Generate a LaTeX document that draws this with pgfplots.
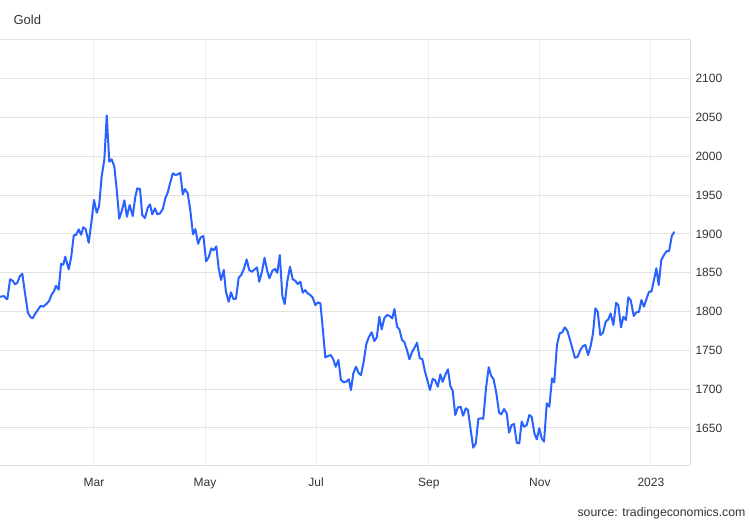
\documentclass[border=0pt]{standalone}
\usepackage{pgfplots}
\pgfplotsset{compat=1.18}
\usepackage{fontspec}
\setmainfont{Liberation Sans}
\definecolor{lineblue}{RGB}{41,98,255}
\definecolor{hgrid}{RGB}{226,226,226}
\definecolor{vgrid}{RGB}{236,239,243}
\definecolor{axisgray}{RGB}{216,221,230}
\definecolor{txt}{RGB}{51,51,51}
\begin{document}
\begin{tikzpicture}
\path[use as bounding box] (0pt,0pt) rectangle (750pt,520pt);
\begin{axis}[
  at={(0pt,55pt)}, anchor=south west,
  scale only axis, width=690pt, height=425pt,
  xmin=7.35, xmax=386.5, ymin=1602.3, ymax=2150,
  axis x line*=bottom, axis y line*=right,
  axis line style={draw=axisgray, line width=1pt},
  x axis line style={-}, y axis line style={-},
  xtick={59,120,181,243,304,365},
  xticklabels={Mar,May,Jul,Sep,Nov,2023},
  ytick={1650,1700,...,2100},
  extra y ticks={2150}, extra y tick labels={},
  extra y tick style={grid=major, major grid style={draw=hgrid, line width=1pt}},
  major tick length=0pt,
  xmajorgrids, ymajorgrids,
  x grid style={draw=vgrid, line width=1pt},
  y grid style={draw=hgrid, line width=1pt},
  /pgf/number format/assume math mode=true,
  /pgf/number format/1000 sep={},
  yticklabel style={font=\fontsize{12}{14}\selectfont, text=txt, anchor=west, xshift=2pt},
  xticklabel style={font=\fontsize{12}{14}\selectfont, text=txt, anchor=base, yshift=-21.5pt},
  clip=false,
]
\addplot[lineblue, line width=2pt, line join=round] coordinates {
(7.4,1819.1) (9.6,1820.0) (10.7,1816.6) (11.4,1816.2) (12.9,1841.6) (14.3,1839.8)
(15.6,1835.1) (16.9,1837.2) (18.3,1845.8) (19.6,1848.8) (21.1,1823.5) (22.7,1798.5)
(24.2,1792.6) (25.3,1791.3) (26.6,1796.9) (28.4,1802.9) (29.7,1807.5) (31.1,1806.3)
(33.0,1810.1) (34.3,1813.6) (35.8,1822.2) (37.0,1826.1) (38.1,1833.3) (39.6,1828.2)
(40.9,1861.3) (42.1,1860.4) (43.2,1870.7) (45.1,1854.4) (46.5,1870.7) (47.9,1898.3)
(49.1,1898.7) (50.6,1906.0) (51.9,1899.0) (53.1,1908.6) (54.4,1906.4) (56.1,1888.7)
(57.5,1913.7) (59.0,1943.8) (60.5,1927.4) (61.8,1936.0) (63.2,1973.8) (64.7,1996.2)
(66.0,2052.9) (67.4,1993.1) (68.7,1996.2) (70.2,1986.7) (71.5,1956.6) (72.9,1919.7)
(74.4,1930.9) (75.7,1943.4) (77.1,1922.2) (78.6,1937.3) (80.3,1923.1) (81.7,1948.0)
(82.8,1958.8) (84.3,1957.9) (85.5,1924.4) (87.0,1920.6) (88.5,1933.8) (89.8,1938.2)
(91.0,1925.3) (92.5,1933.1) (93.8,1925.3) (95.3,1926.6) (96.8,1932.2) (98.2,1946.0)
(99.5,1953.2) (100.8,1965.3) (102.3,1978.2) (103.7,1976.0) (105.2,1976.9) (106.4,1978.9)
(107.8,1951.1) (109.0,1957.9) (110.5,1952.4) (111.9,1930.9) (113.4,1899.6) (114.7,1906.4)
(116.2,1887.4) (117.6,1895.7) (119.1,1897.4) (120.6,1864.8) (122.0,1869.9) (123.5,1881.5)
(124.8,1878.9) (126.2,1884.1) (127.5,1855.7) (128.8,1840.7) (130.3,1853.6) (131.5,1825.6)
(133.0,1812.7) (134.3,1824.8) (135.6,1816.2) (137.0,1816.6) (138.5,1843.6) (139.9,1847.1)
(141.4,1855.2) (142.9,1867.3) (144.3,1853.5) (145.8,1851.4) (147.3,1854.4) (148.6,1857.0)
(149.8,1838.5) (151.3,1851.4) (152.7,1869.4) (154.2,1852.3) (155.4,1842.9) (157.0,1852.6)
(158.5,1854.8) (159.7,1850.1) (161.1,1872.9) (162.5,1820.0) (163.8,1809.7) (165.2,1838.5)
(166.7,1857.8) (168.2,1841.6) (169.6,1839.8) (170.9,1835.5) (172.4,1838.5) (173.7,1824.3)
(175.0,1827.8) (176.4,1823.5) (177.9,1821.3) (179.2,1817.9) (180.6,1808.4) (182.1,1811.9)
(183.4,1810.6) (184.8,1776.2) (186.1,1741.0) (187.6,1742.7) (189.1,1744.0) (190.5,1738.5)
(191.8,1728.9) (193.3,1737.6) (194.7,1711.8) (196.2,1708.8) (197.5,1709.6) (199.0,1712.7)
(200.2,1698.9) (201.5,1720.4) (203.0,1728.9) (204.5,1720.4) (205.7,1718.2) (207.2,1735.4)
(208.6,1757.8) (210.1,1767.6) (211.6,1773.3) (213.0,1762.1) (214.4,1766.8) (215.8,1793.4)
(217.1,1777.1) (218.5,1791.3) (220.0,1795.6) (221.5,1794.3) (222.9,1791.3) (224.1,1803.3)
(225.5,1780.7) (226.8,1777.1) (228.3,1763.3) (229.5,1761.1) (231.0,1750.5) (232.3,1738.5)
(233.8,1748.3) (235.0,1752.7) (236.5,1759.9) (238.0,1739.8) (239.4,1738.9) (240.9,1722.5)
(242.4,1709.6) (243.6,1698.9) (245.1,1713.1) (246.4,1711.8) (247.9,1703.2) (249.3,1719.1)
(250.6,1709.6) (252.0,1718.2) (253.5,1725.6) (254.8,1704.1) (256.1,1698.0) (257.5,1666.7)
(259.0,1676.6) (260.5,1677.4) (261.8,1665.8) (263.3,1675.3) (264.5,1673.1) (266.0,1647.4)
(267.4,1624.6) (268.8,1630.2) (270.2,1661.9) (271.7,1662.4) (272.9,1661.9) (274.4,1701.1)
(275.9,1728.2) (277.3,1716.9) (278.6,1712.7) (280.1,1694.7) (281.6,1669.7) (282.8,1667.6)
(284.3,1674.4) (285.8,1668.9) (287.1,1643.9) (288.5,1653.8) (289.8,1655.1) (291.3,1631.0)
(292.7,1630.2) (294.0,1658.3) (295.3,1651.6) (296.8,1653.8) (298.2,1666.7) (299.5,1664.5)
(301.0,1643.1) (302.3,1635.4) (303.7,1649.6) (305.0,1636.7) (306.3,1632.3) (307.8,1681.8)
(309.2,1677.4) (310.7,1714.0) (311.9,1708.8) (313.4,1756.9) (314.9,1772.0) (316.3,1773.3)
(317.7,1779.7) (319.1,1775.3) (320.6,1763.3) (322.1,1750.5) (323.3,1740.5) (324.8,1741.8)
(326.2,1750.5) (327.7,1755.6) (329.0,1756.9) (330.5,1744.0) (331.9,1755.6) (333.2,1772.0)
(334.5,1804.2) (335.8,1799.8) (337.2,1769.8) (338.7,1772.7) (340.2,1786.9) (341.6,1790.0)
(342.9,1797.7) (344.4,1782.7) (345.9,1811.4) (347.1,1808.4) (348.6,1779.7) (349.9,1793.4)
(351.3,1789.1) (352.6,1818.4) (353.9,1814.9) (355.6,1794.3) (357.0,1799.0) (358.5,1799.8)
(359.8,1814.9) (361.2,1806.3) (362.7,1817.1) (364.0,1825.6) (365.3,1825.6) (366.7,1840.7)
(368.0,1855.7) (369.3,1834.2) (370.7,1866.4) (372.2,1872.9) (373.7,1878.0) (375.0,1878.0)
(376.5,1897.4) (377.9,1902.9)
};
\end{axis}
\node[anchor=west, text=txt, font=\fontsize{13}{15}\selectfont] at (10pt,500pt) {Gold};
\node[anchor=east, text=txt, font=\fontsize{12.3}{14}\selectfont] at (749pt,7pt) {source: tradingeconomics.com};
\end{tikzpicture}
\end{document}
